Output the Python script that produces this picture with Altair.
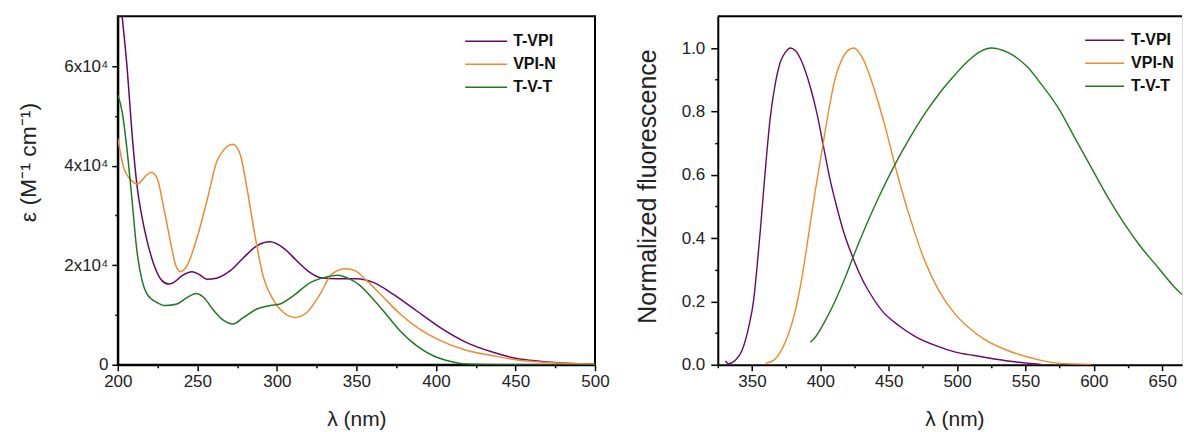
import altair as alt
import pandas as pd

series_names = ["T-VPI", "VPI-N", "T-V-T"]
series_colors = ["#680868", "#F08A2C", "#1F7A1F"]

# Absorption (epsilon in units of 1e4 M-1 cm-1)
abs_tvpi_wl = [200, 202.7, 205.9, 209, 212, 215.3, 218.4, 222.6, 227.8, 232, 235, 240.4, 246.7, 250.8,
               256, 262, 270.7, 279, 287.4, 295.8, 304, 312.5, 321, 327.5, 338, 350, 361, 373, 388,
               402.5, 419, 436, 450, 465, 482, 500]
abs_tvpi_eps = [7.8, 7.0, 5.95, 4.62, 3.62, 2.95, 2.49, 2.02, 1.69, 1.62, 1.65, 1.79, 1.87, 1.82,
                1.72, 1.74, 1.89, 2.15, 2.39, 2.47, 2.35, 2.09, 1.85, 1.75, 1.73, 1.73, 1.65, 1.42, 1.08,
                0.75, 0.45, 0.25, 0.13, 0.07, 0.03, 0.01]

abs_vpin_wl = [200, 203.8, 208, 212.5, 217.4, 221, 224.7, 228.9, 233, 236.2, 239.3, 243.5, 249.8, 256,
               262.3, 267.6, 272.4, 277, 281.2, 285.4, 291.6, 298, 304.2, 311.5, 318.8, 327.2, 334.5,
               343, 349.2, 356.5, 365, 377.5, 390, 402.5, 419, 436, 452.5, 469, 485, 500]
abs_vpin_eps = [4.55, 3.95, 3.72, 3.63, 3.79, 3.87, 3.75, 3.15, 2.49, 2.02, 1.87, 1.99, 2.55, 3.29,
                4.09, 4.35, 4.43, 4.22, 3.55, 2.75, 1.75, 1.29, 1.05, 0.95, 1.05, 1.42, 1.82,
                1.93, 1.89, 1.69, 1.42, 1.02, 0.71, 0.49, 0.29, 0.18, 0.09, 0.05, 0.025, 0.01]

abs_tvt_wl = [200, 202.7, 205.9, 209, 212, 215.3, 218.4, 224.7, 230, 237.2, 243.5, 249.4, 254, 260.3,
              266.5, 272.4, 279, 287.4, 295.8, 302, 310.5, 321, 329.3, 338, 346, 352, 356.7, 367,
              377.5, 388, 398.3, 408.7, 419, 440, 470, 500]
abs_tvt_eps = [5.42, 5.09, 4.29, 3.29, 2.29, 1.69, 1.42, 1.25, 1.19, 1.22, 1.35, 1.43, 1.35, 1.09,
               0.89, 0.82, 0.95, 1.12, 1.19, 1.22, 1.39, 1.65, 1.75, 1.80, 1.72, 1.60, 1.45, 1.08,
               0.68, 0.38, 0.18, 0.07, 0.015, 0.0, 0.0, 0.0]

# Normalized fluorescence
fl_tvpi_wl = [330.5, 333, 337.8, 342.7, 347.6, 351.2, 353.7, 356.1, 358.5, 361, 363.4, 367, 370.7,
              374.4, 378, 381.7, 386.6, 392.7, 397.6, 402.4, 407.3, 412.2, 417, 423.2, 429.3, 435.4,
              445, 457.3, 469.5, 484, 498.8, 512.7, 537, 561.5]
fl_tvpi_val = [0.012, 0.003, 0.014, 0.045, 0.119, 0.203, 0.308, 0.424, 0.55, 0.676, 0.781, 0.886, 0.955,
               0.986, 1.0, 0.992, 0.955, 0.876, 0.792, 0.687, 0.581, 0.495, 0.42, 0.345, 0.282, 0.232,
               0.171, 0.124, 0.089, 0.061, 0.040, 0.029, 0.012, 0.001]

fl_vpin_wl = [360, 365.9, 372, 376.8, 381.7, 386.6, 391.5, 396.3, 401.2, 406.1, 411, 415.9, 420.7,
              424.4, 430.5, 436.6, 442.7, 448.8, 454.9, 461, 467, 474.4, 481.7, 490, 498, 507.8, 520,
              537, 556.6, 573.7, 598]
fl_vpin_val = [0.005, 0.014, 0.05, 0.098, 0.171, 0.277, 0.413, 0.55, 0.676, 0.802, 0.907, 0.965, 0.994,
               1.0, 0.971, 0.907, 0.823, 0.729, 0.624, 0.529, 0.445, 0.35, 0.276, 0.21, 0.163, 0.12,
               0.08, 0.045, 0.019, 0.005, 0.001]

fl_tvt_wl = [392.7, 396.3, 403.7, 411, 418.3, 424.4, 432.9, 442.7, 454.9, 464.6, 476.8, 488, 498,
             507.8, 517.6, 525, 537, 551.7, 561.5, 573.7, 585.9, 598, 610.2, 622.4, 634.6, 646.8,
             659, 666.8]
fl_tvt_val = [0.071, 0.087, 0.14, 0.203, 0.277, 0.345, 0.434, 0.529, 0.635, 0.71, 0.795, 0.862, 0.913,
              0.958, 0.99, 1.0, 0.986, 0.939, 0.886, 0.813, 0.718, 0.624, 0.529, 0.445, 0.371, 0.308,
              0.245, 0.213]


def frame(pairs, scale=1.0):
    rows = []
    for name, (wl, vals) in zip(series_names, pairs):
        for w, v in zip(wl, vals):
            rows.append({"wl": w, "val": v * scale, "series": name})
    return pd.DataFrame(rows)


abs_df = frame([(abs_tvpi_wl, abs_tvpi_eps), (abs_vpin_wl, abs_vpin_eps), (abs_tvt_wl, abs_tvt_eps)], 1e4)
fl_df = frame([(fl_tvpi_wl, fl_tvpi_val), (fl_vpin_wl, fl_vpin_val), (fl_tvt_wl, fl_tvt_val)])
legend_df = pd.DataFrame({"series": series_names, "idx": [0, 1, 2]})

FONT = "Liberation Sans"
color = alt.Color("series:N", scale=alt.Scale(domain=series_names, range=series_colors), legend=None)

axis_style = dict(
    grid=False, domainColor="black", domainWidth=2, tickColor="black", tickWidth=1.5,
    labelFont=FONT, labelFontSize=17, labelColor="#222", labelFlush=False, labelOverlap=False,
    titleFont=FONT, titleFontWeight="normal", titleColor="#222",
)

LW, RW, H = 478, 465, 349


def legend_layers(x0, x1, xt, y0):
    base = alt.Chart(legend_df).transform_calculate(ly=f"{y0} + 23*datum.idx")
    rules = base.mark_rule(strokeWidth=1.6).encode(
        x=alt.value(x0), x2=alt.value(x1),
        y=alt.Y("ly:Q", scale=None, axis=None), color=color)
    texts = base.mark_text(align="left", baseline="middle", font=FONT, fontSize=16,
                           fontWeight="bold", color="#111").encode(
        x=alt.value(xt), y=alt.Y("ly:Q", scale=None, axis=None), text="series:N")
    return rules, texts


# ---- left panel: absorption
xl = alt.X("wl:Q", scale=alt.Scale(domain=[200, 500], nice=False, zero=False),
           axis=alt.Axis(values=list(range(200, 501, 25)),
                         labelExpr="datum.value % 50 == 0 ? datum.label : ''",
                         tickSize={"condition": {"test": "datum.value % 50 == 0", "value": 6}, "value": 3},
                         labelPadding=3, title="λ (nm)", titleFontSize=21,
                         titleX=239, titleY=61, titleBaseline="alphabetic", **axis_style))
yl = alt.Y("val:Q", scale=alt.Scale(domain=[0, 70000], nice=False),
           axis=alt.Axis(values=list(range(0, 60001, 10000)),
                         labelExpr="datum.value == 0 ? '0' : (datum.value % 20000 == 0 ? format(datum.value/10000, 'd') + 'x10⁴' : '')",
                         tickSize={"condition": {"test": "datum.value % 20000 == 0", "value": 6}, "value": 3},
                         labelPadding=4, title="ε (M⁻¹ cm⁻¹)", titleFontSize=23, titleAngle=270,
                         titleX=-82, titleY=146, titleBaseline="alphabetic", titleAlign="center",
                         **axis_style))
left_lines = alt.Chart(abs_df).mark_line(strokeWidth=1.5, clip=True, interpolate="monotone").encode(
    x=xl, y=yl, color=color, order="wl:Q")
lr, lt = legend_layers(348, 390, 396, 25)
left = alt.layer(left_lines, lr, lt).properties(
    width=LW, height=H, view=alt.ViewBackground(stroke="black", strokeWidth=2))

# ---- right panel: fluorescence
xr = alt.X("wl:Q", scale=alt.Scale(domain=[325, 664.5], nice=False, zero=False),
           axis=alt.Axis(values=list(range(325, 651, 25)),
                         labelExpr="datum.value % 50 == 0 ? datum.label : ''",
                         tickSize={"condition": {"test": "datum.value % 50 == 0", "value": 6}, "value": 3},
                         labelPadding=3, title="λ (nm)", titleFontSize=21,
                         titleX=237, titleY=61, titleBaseline="alphabetic", **axis_style))
yr = alt.Y("val:Q", scale=alt.Scale(domain=[0, 1.1], nice=False),
           axis=alt.Axis(values=[round(i * 0.1, 1) for i in range(11)],
                         labelExpr="(round(datum.value*10) % 2 == 0) ? format(datum.value, '.1f') : ''",
                         tickSize={"condition": {"test": "round(datum.value*10) % 2 == 0", "value": 7}, "value": 3},
                         labelPadding=6, title="Normalized fluorescence", titleFontSize=25, titleAngle=270,
                         titleX=-62, titleY=170, titleBaseline="alphabetic", titleAlign="center",
                         **axis_style))
right_lines = alt.Chart(fl_df).mark_line(strokeWidth=1.4, clip=True, interpolate="monotone").encode(
    x=xr, y=yr, color=color, order="wl:Q")
top_rule = alt.Chart(alt.Data(values=[{}])).mark_rule(color="black", strokeWidth=2).encode(
    x=alt.value(0), x2=alt.value(RW), y=alt.value(0))
rr, rt = legend_layers(368, 407, 414, 24)
right = alt.layer(right_lines, top_rule, rr, rt).properties(width=RW, height=H)

chart = alt.hconcat(left, right, spacing=123, bounds="flush").properties(
    padding={"left": 17, "top": 14, "right": 0, "bottom": 0}
).configure_view(stroke="transparent").configure(font=FONT, background="white")

chart.save("out.html", embed_options={"renderer": "svg", "actions": False})
